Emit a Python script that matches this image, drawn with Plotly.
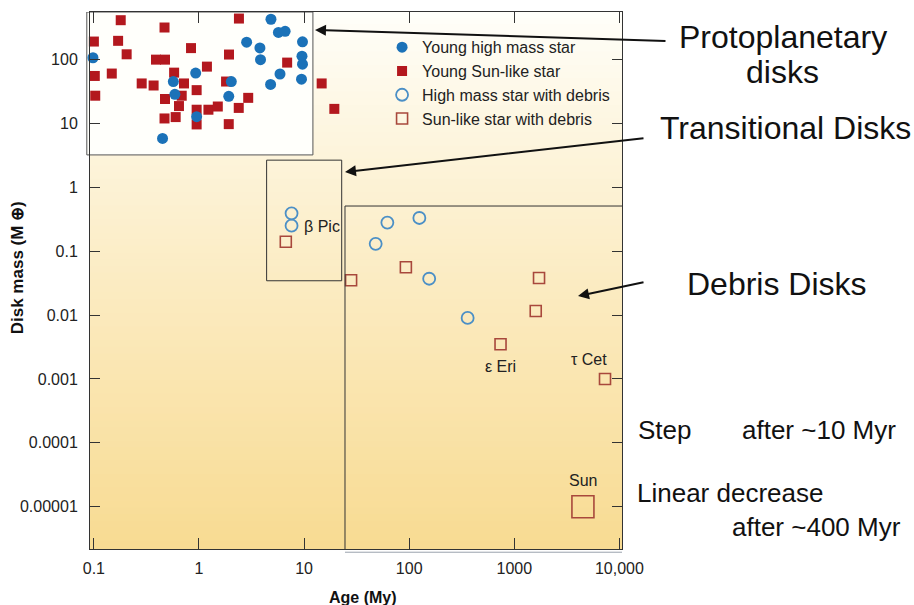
import numpy as np
import plotly.graph_objects as go

# ---- data: age [Myr] vs. disk mass [Earth masses] ----
# young high-mass stars (filled circles)
hm_young_age = [0.098, 0.93, 0.57, 0.59, 0.95, 0.45, 4.84, 5.7, 6.6, 2.84,
                3.8, 3.85, 9.66, 9.55, 9.66, 5.9, 4.8, 9.45, 2.03, 1.92]
hm_young_mass = [106, 61, 45, 28.4, 12.7, 5.8, 424, 264, 275, 186,
                 151, 99, 188, 112, 84, 59, 40.5, 49, 45, 26.4]

# young Sun-like stars (filled squares)
sl_young_age = [0.18, 0.47, 2.4, 0.10, 0.17, 0.205, 0.84, 0.39, 0.475, 1.19,
                1.93, 6.9, 0.102, 0.148, 0.58, 0.285, 0.37, 0.72, 1.81, 14.7,
                0.103, 0.475, 0.685, 0.95, 2.94, 0.645, 0.95, 1.23, 1.51, 2.39,
                19.4, 0.47, 0.60, 0.95, 1.92]
sl_young_mass = [410, 315, 435, 190, 195, 120, 150, 99, 99, 77,
                 119, 89, 55, 60, 62, 42, 39, 42, 45, 42,
                 27, 24, 27, 33, 25, 18.6, 16.3, 16.3, 18.3, 17.4,
                 16.8, 11.9, 12.5, 9.6, 9.7]

# high-mass stars with debris disks (open circles)
hm_debris_age = [7.6, 7.6, 48, 62, 125, 155, 360]
hm_debris_mass = [0.39, 0.25, 0.13, 0.28, 0.33, 0.037, 0.009]

# Sun-like stars with debris disks (open squares)
sl_debris_age = [6.7, 28, 93, 740, 1600, 1720, 7300]
sl_debris_mass = [0.14, 0.035, 0.056, 0.0035, 0.0116, 0.038, 0.001]

# the Sun today
sun_age = [4500]
sun_mass = [1e-5]

# axis ticks
x_tickvals = [0.1, 1, 10, 100, 1000, 10000]
x_ticktext = ["0.1", "1", "10", "100", "1000", "10,000"]
y_tickvals = [1e-5, 1e-4, 1e-3, 1e-2, 1e-1, 1, 10, 100]
y_ticktext = ["0.00001", "0.0001", "0.001", "0.01", "0.1", "1", "10", "100"]

# ---- styling ----
BLUE = "#1B72B8"
RED = "#B3181E"
OPEN_BLUE = "#4B8FC6"
OPEN_RED = "#A8483C"
FONT = "Liberation Sans, Arial, sans-serif"

fig = go.Figure()

fig.add_trace(go.Scatter(
    x=sl_young_age, y=sl_young_mass, mode="markers", name="Young Sun-like star",
    legendrank=2, cliponaxis=False,
    marker=dict(symbol="square", size=10, color=RED, line=dict(width=0))))
fig.add_trace(go.Scatter(
    x=hm_young_age, y=hm_young_mass, mode="markers", name="Young high mass star",
    legendrank=1, cliponaxis=False,
    marker=dict(symbol="circle", size=11, color=BLUE, line=dict(width=0))))
fig.add_trace(go.Scatter(
    x=hm_debris_age, y=hm_debris_mass, mode="markers", name="High mass star with debris",
    legendrank=3,
    marker=dict(symbol="circle-open", size=12, color=OPEN_BLUE, line=dict(width=1.8))))
fig.add_trace(go.Scatter(
    x=sl_debris_age, y=sl_debris_mass, mode="markers", name="Sun-like star with debris",
    legendrank=4,
    marker=dict(symbol="square-open", size=11, color=OPEN_RED, line=dict(width=1.6))))
fig.add_trace(go.Scatter(
    x=sun_age, y=sun_mass, mode="markers", name="Sun", showlegend=False,
    marker=dict(symbol="square-open", size=22, color=OPEN_RED, line=dict(width=1.6))))

# ---- background: vertical cream-to-yellow gradient over the plot area ----
shapes = []
n_strips = 80
top_rgb = np.array([255, 255, 251])
bot_rgb = np.array([248, 219, 146])
for i in range(n_strips):
    t = (i + 0.5) / n_strips          # 0 at top, 1 at bottom
    c = top_rgb + (bot_rgb - top_rgb) * t ** 0.9
    shapes.append(dict(
        type="rect", xref="paper", yref="paper", layer="below",
        x0=0, x1=1, y0=1 - (i + 1) / n_strips, y1=1 - i / n_strips + 0.002,
        line=dict(width=0),
        fillcolor="rgb(%d,%d,%d)" % tuple(np.round(c).astype(int))))

# protoplanetary inset panel
shapes.append(dict(type="rect", xref="paper", yref="y", layer="below",
                   x0=-0.006, x1=0.419, y0=3.2, y1=10 ** 2.741,
                   fillcolor="#FFFFFB", line=dict(color="#555555", width=1)))
# transitional-disk box
shapes.append(dict(type="rect", xref="x", yref="y", layer="above",
                   x0=4.4, x1=22.8, y0=0.0344, y1=2.65,
                   line=dict(color="#333333", width=1)))
# debris-disk box (open at the right and bottom, where it meets the frame)
shapes.append(dict(type="path", xref="paper", yref="paper", layer="above",
                   path="M 0.4793,0 L 0.4793,0.6387 L 1,0.6387",
                   line=dict(color="#333333", width=1)))
shapes.append(dict(type="line", xref="paper", yref="paper", layer="above",
                   x0=0.4793, x1=1, y0=-0.006, y1=-0.006,
                   line=dict(color="#9AA3AE", width=1)))

annotations = []

# right-hand region labels
big = dict(family=FONT, size=32, color="#111111")
mid = dict(family=FONT, size=26, color="#111111")
for txt, x, y, xa, f in [
        ("Protoplanetary", 1.3026, 0.9534, "center", big),
        ("disks", 1.3026, 0.8883, "center", big),
        ("Transitional Disks", 1.3064, 0.7840, "center", big),
        ("Debris Disks", 1.2914, 0.4935, "center", big),
        ("Step", 1.0263, 0.2216, "left", mid),
        ("after ~10 Myr", 1.2218, 0.2216, "left", mid),
        ("Linear decrease", 1.0244, 0.1043, "left", mid),
        ("after ~400 Myr", 1.2030, 0.0410, "left", mid)]:
    annotations.append(dict(text=txt, x=x, y=y, xref="paper", yref="paper",
                            xanchor=xa, yanchor="middle", showarrow=False, font=f))

# arrows from the labels to the regions (head in paper coords, tail offset in px)
for hx, hy, dx, dy in [(0.4229, 0.9665, 352, 11),
                       (0.4793, 0.7020, 300, -34),
                       (0.9173, 0.4711, 67, -14)]:
    annotations.append(dict(text="", x=hx, y=hy, xref="paper", yref="paper",
                            ax=dx, ay=dy, showarrow=True, arrowhead=2,
                            arrowsize=1.1, arrowwidth=2, arrowcolor="#111111"))

# star names next to their points
small = dict(family=FONT, size=16, color="#222222")
named = [("β Pic", hm_debris_age[1], hm_debris_mass[1], "left", 10, -1),
         ("ε Eri", sl_debris_age[3], sl_debris_mass[3], "center", 0, -22),
         ("τ Cet", sl_debris_age[6], sl_debris_mass[6], "center", -16, 19),
         ("Sun", sun_age[0], sun_mass[0], "center", 0, 26)]
for txt, ax_, ay_, xa, xs, ys in named:
    annotations.append(dict(text=txt, x=np.log10(ax_), y=np.log10(ay_),
                            xref="x", yref="y", xanchor=xa, yanchor="middle",
                            xshift=xs, yshift=ys, showarrow=False, font=small))

# axis titles
annotations.append(dict(text="<b>Disk mass (M ⊕)</b>", x=-0.137, y=0.523,
                        xref="paper", yref="paper", textangle=-90, showarrow=False,
                        xanchor="center", yanchor="middle",
                        font=dict(family=FONT, size=17, color="#111111")))
annotations.append(dict(text="<b>Age (My)</b>", x=0.513, y=-0.091,
                        xref="paper", yref="paper", showarrow=False,
                        xanchor="center", yanchor="middle",
                        font=dict(family=FONT, size=16, color="#111111")))

axis_common = dict(type="log", showgrid=False, zeroline=False, showline=True,
                   linecolor="#333333", linewidth=1, mirror="ticks",
                   ticks="inside", tickcolor="#333333", tickwidth=1,
                   tickfont=dict(family=FONT, size=16, color="#222222"))

fig.update_layout(
    width=914, height=605,
    margin=dict(l=90, r=292, t=12, b=56, pad=0),
    paper_bgcolor="white", plot_bgcolor="rgb(248,219,146)",
    font=dict(family=FONT, color="#111111"),
    xaxis=dict(axis_common, range=[-1.037, 4.025], tickvals=x_tickvals,
               ticktext=x_ticktext, ticklen=11, ticklabelstandoff=5),
    yaxis=dict(axis_common, range=[-5.66, 2.741], tickvals=y_tickvals,
               ticktext=y_ticktext, ticklen=10, ticklabelstandoff=8),
    legend=dict(x=0.549, y=0.966, xanchor="left", yanchor="top",
                bgcolor="rgba(0,0,0,0)", borderwidth=0,
                font=dict(family=FONT, size=16, color="#222222"),
                tracegroupgap=0),
    shapes=shapes, annotations=annotations,
)

fig.write_html("out.html")
